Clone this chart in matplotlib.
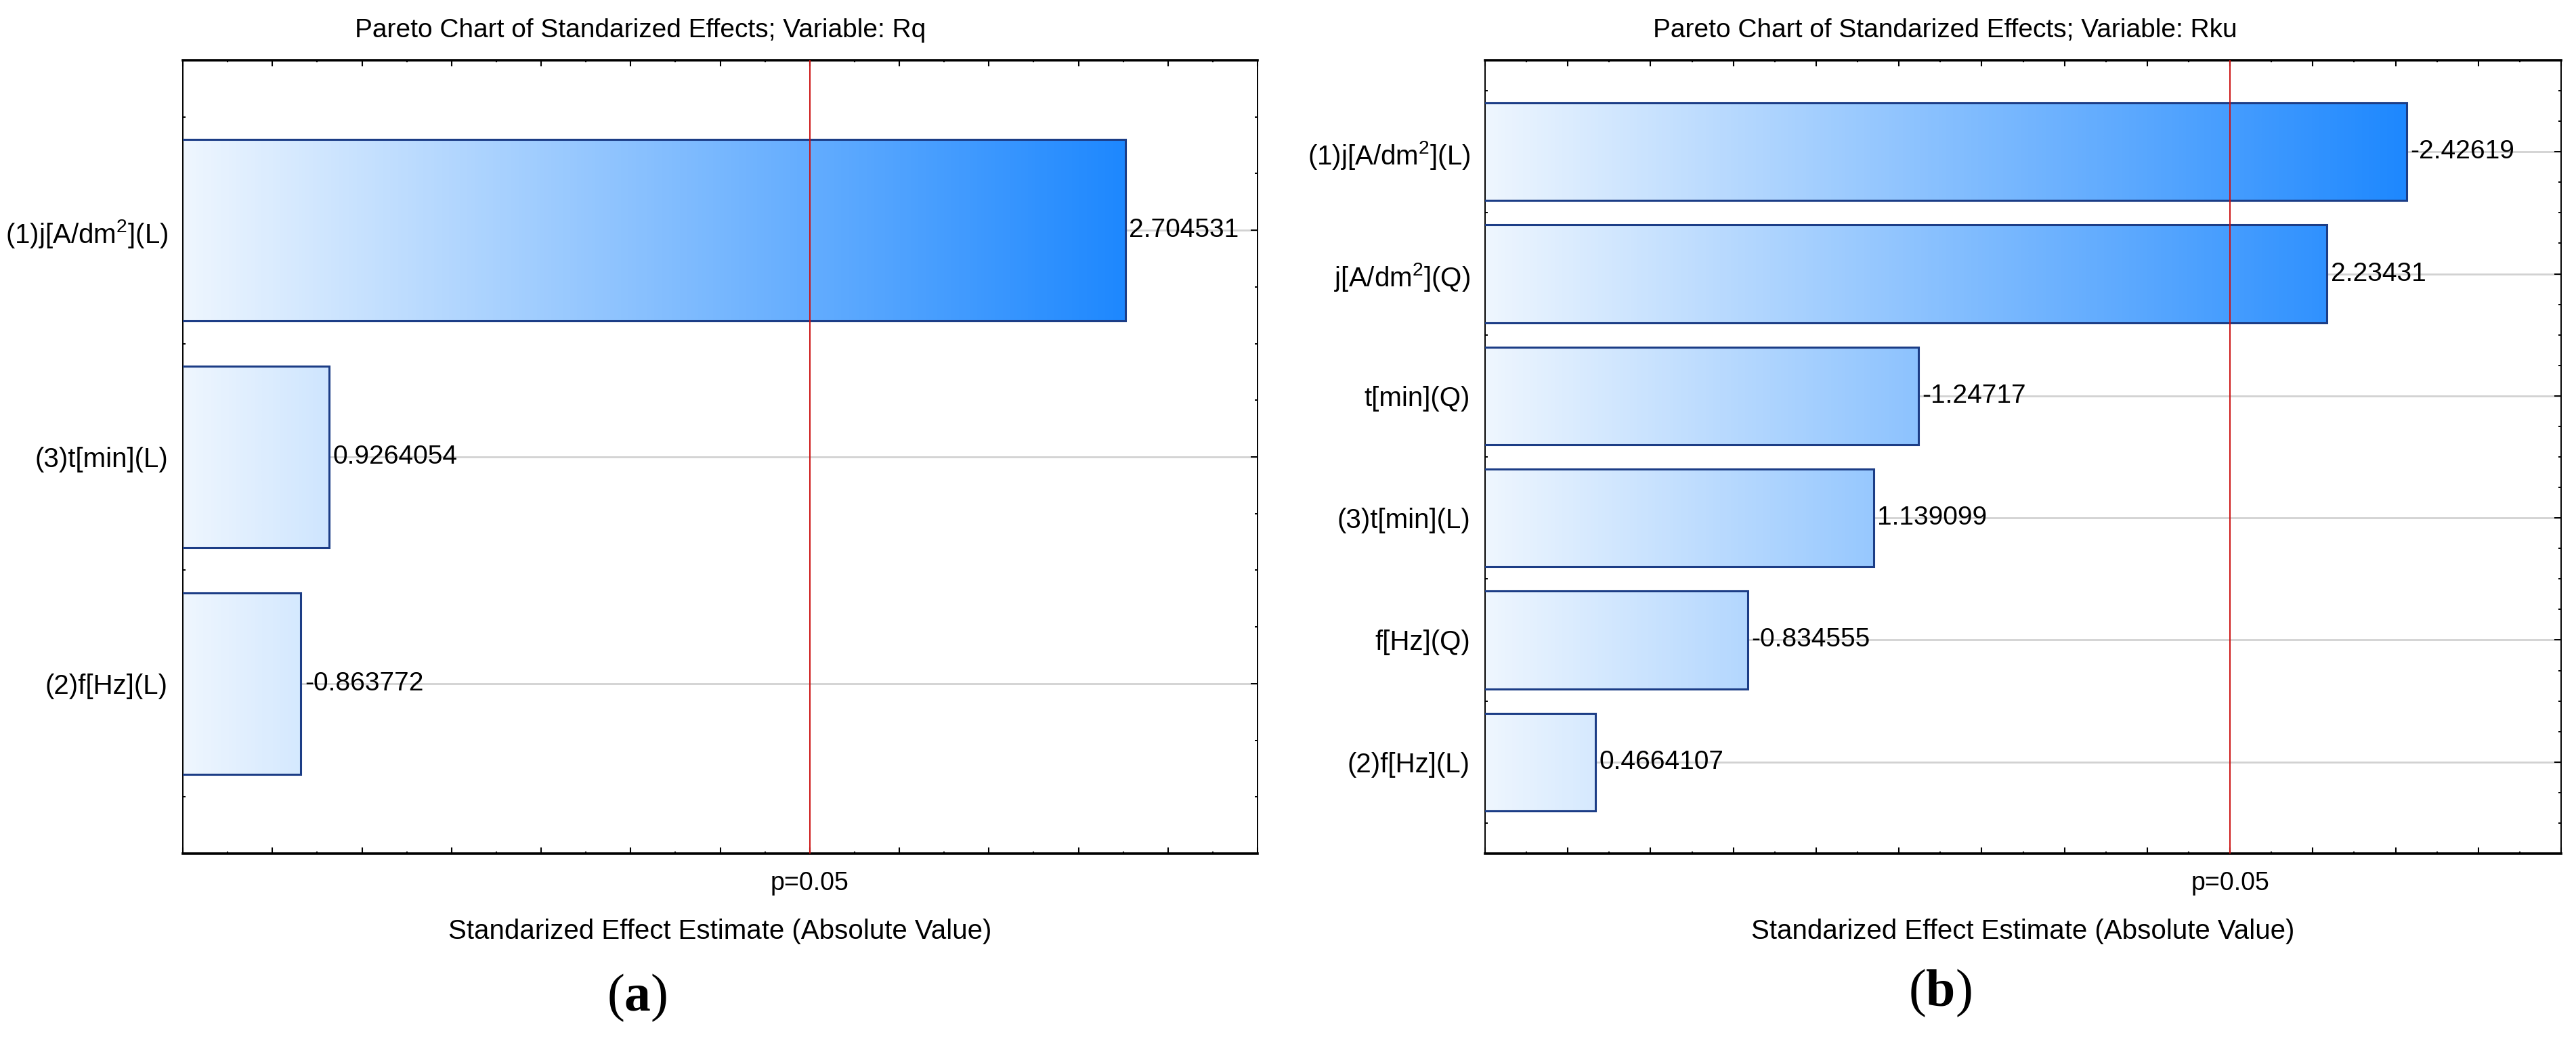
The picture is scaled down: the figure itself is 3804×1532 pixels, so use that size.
import numpy as np
import matplotlib
matplotlib.use("Agg")
import matplotlib.pyplot as plt
import matplotlib.transforms as mtransforms
from matplotlib.colors import LinearSegmentedColormap
from matplotlib.ticker import MultipleLocator

# ---------------- data ----------------
rq_terms = ["(1)j[A/dm$^2$](L)", "(3)t[min](L)", "(2)f[Hz](L)"]
rq_effects = [2.704531, 0.9264054, -0.863772]

rku_terms = ["(1)j[A/dm$^2$](L)", "j[A/dm$^2$](Q)", "t[min](Q)",
             "(3)t[min](L)", "f[Hz](Q)", "(2)f[Hz](L)"]
rku_effects = [-2.42619, 2.23431, -1.24717, 1.139099, -0.834555, 0.4664107]

t_crit = 2.0
p_label = "p=0.05"
titles = ["Pareto Chart of Standarized Effects; Variable: Rq",
          "Pareto Chart of Standarized Effects; Variable: Rku"]
x_label = "Standarized Effect Estimate (Absolute Value)"
panel_labels = ["a", "b"]
x_ranges = [(0.6, 3.0), (0.2, 2.8)]

# ---------------- style ----------------
plt.rcParams["font.family"] = ["Liberation Sans", "DejaVu Sans"]
plt.rcParams["mathtext.fontset"] = "custom"
plt.rcParams["mathtext.rm"] = "Liberation Sans"
plt.rcParams["mathtext.it"] = "Liberation Sans:italic"
plt.rcParams["mathtext.bf"] = "Liberation Serif:bold"

W, H = 3804, 1532
fig = plt.figure(figsize=(W / 100, H / 100), dpi=100)

cmap = LinearSegmentedColormap.from_list("grad", ["#EEF6FE", "#1E88FF"])
grad = np.linspace(0, 1, 256).reshape(1, -1)

ax_top = 89
ax_bot = 1261
axes_px = [(270, 1857), (2193, 3782)]
title_x = [946, 2872]
plabel_xy = [(941, 1474), (2865, 1467)]


def draw(ax, terms, effects, xr, title, tx, plab, pxy):
    n = len(terms)
    y = np.arange(n)
    mags = np.abs(np.array(effects))
    vmax = mags.max()

    ax.set_xlim(*xr)
    ax.set_ylim(n - 0.25, -0.75)

    for yi in y:
        ax.axhline(yi, color="#D2D2D2", lw=2.0, zorder=1)

    bars = ax.barh(y, mags, left=0, height=0.8, facecolor="none",
                   edgecolor="#1C3D86", linewidth=2.2, zorder=3)
    for b, yi in zip(bars, y):
        im = ax.imshow(grad, cmap=cmap, aspect="auto",
                       extent=(xr[0], vmax, yi + 0.4, yi - 0.4),
                       zorder=2, interpolation="bicubic")
        im.set_clip_path(b)
    ax.set_xlim(*xr)
    ax.set_ylim(n - 0.25, -0.75)

    ax.axvline(t_crit, color="#CC1010", lw=1.4, zorder=4)

    for m, v, yi in zip(mags, effects, y):
        ax.annotate(f"{v:.7g}", xy=(m, yi), xytext=(4, 0),
                    textcoords="offset points", ha="left", va="center",
                    fontsize=28, zorder=5)

    ax.xaxis.set_major_locator(MultipleLocator(0.2))
    ax.xaxis.set_minor_locator(MultipleLocator(0.1))
    ax.tick_params(axis="x", which="both", direction="in", top=True,
                   bottom=True, labelbottom=False, width=1.5)
    ax.tick_params(axis="x", which="major", length=6.5)
    ax.tick_params(axis="x", which="minor", length=2.5)

    ax.set_yticks(y)
    ax.set_yticklabels(terms, fontsize=29)
    ax.yaxis.set_minor_locator(MultipleLocator(0.25))
    ax.tick_params(axis="y", which="both", direction="in", left=True,
                   right=True, width=1.4, pad=16)
    ax.tick_params(axis="y", which="major", length=7)
    ax.tick_params(axis="y", which="minor", length=3)

    ax.spines["top"].set_linewidth(2.6)
    ax.spines["bottom"].set_linewidth(2.6)
    ax.spines["left"].set_linewidth(1.4)
    ax.spines["right"].set_linewidth(1.4)

    tr = mtransforms.blended_transform_factory(ax.transData, fig.transFigure)
    ax.text(t_crit, 1 - 1315 / H, p_label, transform=tr, ha="center",
            va="baseline", fontsize=27)
    tr2 = mtransforms.blended_transform_factory(ax.transAxes, fig.transFigure)
    ax.text(0.5, 1 - 1376 / H, x_label, transform=tr2, ha="center",
            va="center", fontsize=29)

    fig.text(tx / W, 1 - 55 / H, title, ha="center", va="baseline",
             fontsize=28)
    fig.text(pxy[0] / W, 1 - pxy[1] / H, "($\\mathbf{%s}$)" % plab,
             ha="center", va="center", fontsize=56,
             family=["Liberation Serif", "DejaVu Serif"])


datasets = [(rq_terms, rq_effects), (rku_terms, rku_effects)]
for i, (terms, effects) in enumerate(datasets):
    x0, x1 = axes_px[i]
    ax = fig.add_axes([x0 / W, 1 - ax_bot / H, (x1 - x0) / W,
                       (ax_bot - ax_top) / H])
    draw(ax, terms, effects, x_ranges[i], titles[i], title_x[i],
         panel_labels[i], plabel_xy[i])

fig.savefig("out.png", dpi=100, facecolor="white")
